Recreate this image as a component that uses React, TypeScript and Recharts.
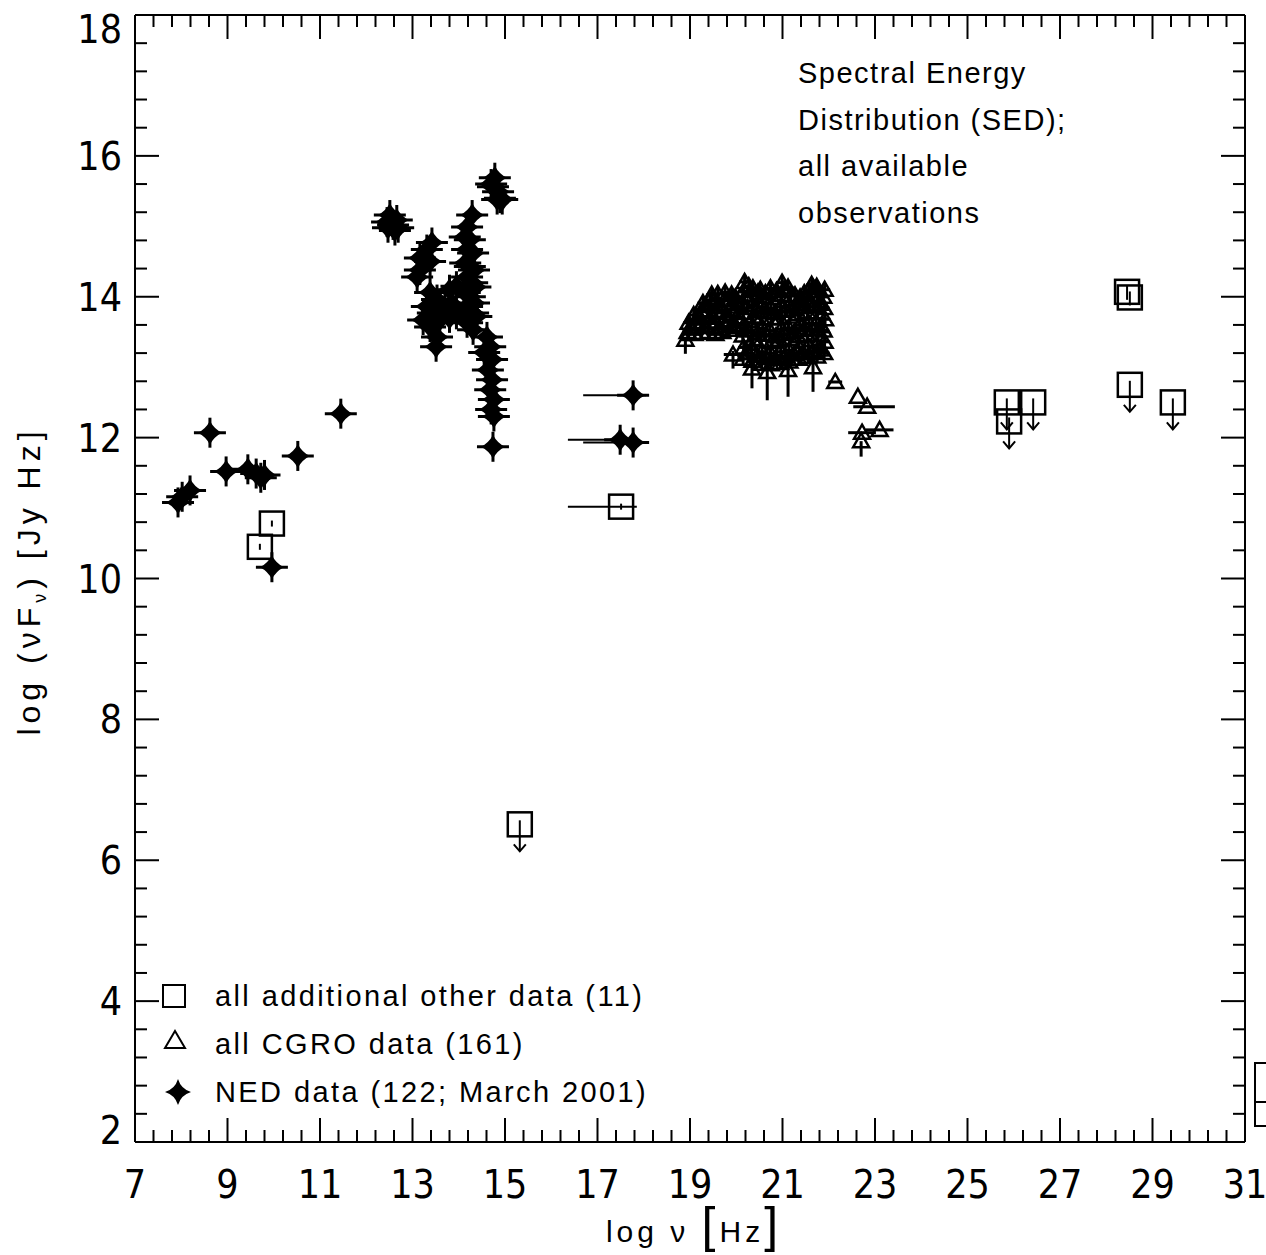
import React from 'react';
import { ScatterChart, Scatter, XAxis, YAxis, ErrorBar } from 'recharts';

const W = 1266;
const H = 1255;

const xMajorTicks = [7, 9, 11, 13, 15, 17, 19, 21, 23, 25, 27, 29, 31];
const yMajorTicks = [2, 4, 6, 8, 10, 12, 14, 16, 18];

// [log nu, log nuFnu, xErrLow, xErrHigh, yErrLow, yErrHigh]
type Row = number[];

const nedRows: Row[] = [
  [7.93, 11.08], [8.02, 11.16], [8.19, 11.25], [8.62, 12.07], [8.97, 11.52],
  [9.44, 11.55], [9.62, 11.49], [9.72, 11.43], [9.8, 11.47], [9.96, 10.16],
  [10.52, 11.74], [11.45, 12.34],
  [12.51, 15.16], [12.66, 15.09], [12.45, 15.06], [12.58, 15.02], [12.69, 14.98], [12.47, 14.98], [12.62, 14.94],
  [13.42, 14.77], [13.31, 14.67], [13.16, 14.55], [13.38, 14.5], [13.1, 14.28], [13.16, 14.38],
  [13.38, 14.06], [13.53, 13.96], [13.31, 13.86], [13.44, 13.77], [13.23, 13.67], [13.59, 13.67],
  [13.38, 13.57], [13.53, 13.43], [13.51, 13.29],
  [13.8, 14.1], [13.85, 13.9], [13.8, 13.7], [13.95, 14.15], [13.95, 13.75], [13.7, 13.85],
  [14.29, 15.16],
  [14.18, 14.99], [14.13, 14.85], [14.24, 14.81], [14.18, 14.67], [14.31, 14.62], [14.14, 14.48],
  [14.24, 14.43], [14.33, 14.38], [14.18, 14.28], [14.29, 14.2], [14.36, 14.14], [14.13, 14.06],
  [14.24, 14.0], [14.33, 13.91], [14.18, 13.86], [14.31, 13.77], [14.38, 13.72], [14.18, 13.63], [14.31, 13.53],
  [14.61, 13.43], [14.68, 13.29], [14.55, 13.21], [14.72, 13.11], [14.63, 12.96], [14.72, 12.82],
  [14.68, 12.68], [14.76, 12.54], [14.7, 12.4], [14.76, 12.3],
  [14.74, 11.87],
  [14.78, 15.69], [14.74, 15.56], [14.85, 15.49], [14.89, 15.4], [14.83, 15.38], [14.94, 15.38], [14.7, 15.6],
  [17.77, 12.6, 1.08, 0.28], [17.49, 11.97, 1.13, 0.3], [17.77, 11.93, 1.08, 0.32],
];

// dense 19-22 cluster; every point carries the same small error bars (cgroLobeErr)
const cgroLobeRows: Row[] = [
  [18.95, 13.5], [18.97, 13.63], [19.1, 13.47], [19.12, 13.61], [19.08, 13.74],
  [19.25, 13.49], [19.27, 13.64], [19.24, 13.79], [19.28, 13.91],
  [19.4, 13.5], [19.42, 13.65], [19.39, 13.81], [19.43, 13.95], [19.47, 14.03],
  [19.55, 13.47], [19.56, 13.62], [19.58, 13.77], [19.54, 13.9], [19.6, 14.04],
  [19.7, 13.5], [19.72, 13.64], [19.69, 13.8], [19.74, 13.95], [19.76, 14.06],
  [19.85, 13.53], [19.86, 13.67], [19.88, 13.82], [19.84, 13.96], [19.9, 14.03],
  [20.0, 13.57], [20.01, 13.71], [20.03, 13.86], [19.98, 13.99],
  [19.03, 13.55], [19.18, 13.7], [19.33, 13.57], [19.33, 13.87], [19.48, 13.72],
  [19.63, 13.55], [19.63, 13.86], [19.78, 13.72], [19.93, 13.6], [19.93, 13.9],
  [20.15, 13.12], [20.16, 13.28], [20.14, 13.45], [20.17, 13.6], [20.15, 13.77], [20.13, 13.92], [20.16, 14.08], [20.18, 14.21],
  [20.35, 13.09], [20.33, 13.25], [20.36, 13.4], [20.34, 13.57], [20.37, 13.72], [20.35, 13.88], [20.32, 14.02], [20.36, 14.12],
  [20.55, 13.05], [20.56, 13.22], [20.53, 13.38], [20.57, 13.55], [20.54, 13.7], [20.56, 13.86], [20.55, 14.0], [20.52, 14.1],
  [20.75, 13.04], [20.74, 13.2], [20.77, 13.36], [20.73, 13.52], [20.76, 13.69], [20.75, 13.84], [20.78, 13.98], [20.74, 14.12],
  [20.95, 13.06], [20.96, 13.22], [20.93, 13.39], [20.97, 13.54], [20.94, 13.7], [20.96, 13.86], [20.98, 14.02], [20.99, 14.2],
  [21.15, 13.08], [21.14, 13.24], [21.17, 13.4], [21.13, 13.56], [21.16, 13.72], [21.15, 13.88], [21.18, 14.01], [21.12, 14.13],
  [21.35, 13.12], [21.36, 13.28], [21.33, 13.44], [21.37, 13.6], [21.34, 13.76], [21.36, 13.9], [21.38, 13.99],
  [21.55, 13.14], [21.56, 13.3], [21.53, 13.46], [21.57, 13.62], [21.54, 13.78], [21.55, 13.94], [21.57, 14.08], [21.63, 14.17],
  [21.75, 13.15], [21.74, 13.31], [21.77, 13.46], [21.73, 13.62], [21.76, 13.78], [21.75, 13.94], [21.78, 14.08], [21.74, 14.14],
  [21.9, 13.2], [21.91, 13.36], [21.89, 13.52], [21.92, 13.68], [21.9, 13.84], [21.88, 14.0], [21.91, 14.1],
  [20.25, 13.2], [20.26, 13.52], [20.24, 13.84], [20.27, 14.15],
  [20.45, 13.16], [20.46, 13.48], [20.44, 13.8], [20.47, 14.06],
  [20.65, 13.13], [20.64, 13.46], [20.66, 13.78], [20.63, 14.05],
  [20.85, 13.12], [20.86, 13.44], [20.84, 13.77], [20.87, 14.08],
  [21.05, 13.15], [21.04, 13.47], [21.06, 13.8], [21.03, 14.1],
  [21.25, 13.18], [21.26, 13.5], [21.24, 13.82], [21.27, 14.02],
  [21.45, 13.2], [21.46, 13.53], [21.44, 13.85], [21.47, 14.05],
  [21.65, 13.22], [21.64, 13.54], [21.66, 13.86], [21.67, 14.12],
  [21.83, 13.25], [21.84, 13.58], [21.82, 13.9],
];
const cgroLobeErr = [0.12, 0.12, 0.09, 0.09];

const cgroOtherRows: Row[] = [
  [18.9, 13.39, 0.1, 0.1, 0.2, 0], [19.93, 13.18, 0.2, 0.2, 0.2, 0.05],
  [20.34, 12.98, 0, 0, 0.28, 0.2], [20.67, 12.93, 0, 0, 0.4, 0.2], [21.12, 12.96, 0, 0, 0.38, 0.2], [21.66, 13.0, 0, 0, 0.35, 0.2],
  [22.14, 12.79, 0.15, 0.15], [22.63, 12.58], [22.83, 12.44, 0.3, 0.6], [23.1, 12.11, 0.3, 0.3],
  [22.72, 12.07, 0.3, 0.3], [22.7, 11.95, 0, 0, 0.22, 0],
];

const otherRows: Row[] = [
  [9.7, 10.45], [9.96, 10.78], [15.32, 6.51], [17.51, 11.02, 1.15, 0.34],
  [25.85, 12.5], [25.9, 12.23], [26.42, 12.5], [28.45, 14.07], [28.51, 13.99], [28.51, 12.75], [29.44, 12.5],
];
// 0 = detection, 1 = upper limit (arrow), 2 = short limit mark
const otherLimit = [0, 0, 1, 0, 1, 1, 1, 2, 2, 1, 1];

const legendLabels = ['all additional other data (11)', 'all CGRO data (161)', 'NED data (122; March 2001)'];
const noteLines = ['Spectral Energy', 'Distribution (SED);', 'all available', 'observations'];

const NUM_FONT = "'Liberation Sans Narrow', 'DejaVu Sans Condensed', 'Liberation Sans', sans-serif";
const TXT_FONT = "'Liberation Sans', 'DejaVu Sans', sans-serif";

const toPoints = (rows: Row[], lim?: number[]) =>
  rows.map((r, i) => ({
    x: r[0],
    y: r[1],
    ex: [r[2] || 0, r[3] || 0],
    ey: [r[4] || 0, r[5] || 0],
    lim: lim ? lim[i] : 0,
  }));

const nedData = toPoints(nedRows);
const cgroData = [
  ...toPoints(cgroLobeRows.map((r) => [r[0], r[1], ...cgroLobeErr])),
  ...toPoints(cgroOtherRows),
];
const otherData = toPoints(otherRows, otherLimit);

// minor ticks: 5 intervals between labelled ticks
const withMinor = (major: number[]) => {
  const out: number[] = [];
  for (let i = 0; i < major.length - 1; i++) {
    for (let k = 0; k < 5; k++) out.push(+(major[i] + ((major[i + 1] - major[i]) * k) / 5).toFixed(3));
  }
  out.push(major[major.length - 1]);
  return out;
};
const xTicks = withMinor(xMajorTicks);
const yTicks = withMinor(yMajorTicks);

const isMajor = (v: number, majors: number[]) => majors.some((m) => Math.abs(m - v) < 1e-6);

const BottomTick = ({ x, y, payload }: any) => {
  const major = isMajor(payload.value, xMajorTicks);
  return (
    <g>
      <line x1={x} x2={x} y1={y} y2={y - (major ? 24 : 12)} stroke="#000" strokeWidth={2} />
      {major && (
        <text x={x} y={y + 56} textAnchor="middle" fontSize={39} fontFamily={NUM_FONT} fill="#000">
          {payload.value}
        </text>
      )}
    </g>
  );
};

const TopTick = ({ x, y, payload }: any) => {
  const major = isMajor(payload.value, xMajorTicks);
  return <line x1={x} x2={x} y1={y} y2={y + (major ? 24 : 12)} stroke="#000" strokeWidth={2} />;
};

const LeftTick = ({ x, y, payload }: any) => {
  const v = payload.value;
  const major = isMajor(v, yMajorTicks);
  // end labels sit inside the frame
  const shift = v === 18 ? 14 : v === 2 ? -12 : 0;
  return (
    <g>
      <line x1={x} x2={x + (major ? 24 : 12)} y1={y} y2={y} stroke="#000" strokeWidth={2} />
      {major && (
        <text x={x - 13} y={y + 14 + shift} textAnchor="end" fontSize={39} fontFamily={NUM_FONT} fill="#000">
          {v}
        </text>
      )}
    </g>
  );
};

const RightTick = ({ x, y, payload }: any) => {
  const major = isMajor(payload.value, yMajorTicks);
  return <line x1={x} x2={x - (major ? 24 : 12)} y1={y} y2={y} stroke="#000" strokeWidth={2} />;
};

const starPath = (cx: number, cy: number, r: number, c: number) =>
  `M${cx},${cy - r} Q${cx + c},${cy - c} ${cx + r},${cy} Q${cx + c},${cy + c} ${cx},${cy + r} ` +
  `Q${cx - c},${cy + c} ${cx - r},${cy} Q${cx - c},${cy - c} ${cx},${cy - r} Z`;

const StarMark = ({ cx, cy }: any) => {
  if (cx == null || cy == null) return null;
  return (
    <g>
      <line x1={cx - 16} x2={cx + 16} y1={cy} y2={cy} stroke="#000" strokeWidth={3} />
      <line x1={cx} x2={cx} y1={cy - 15} y2={cy + 15} stroke="#000" strokeWidth={3} />
      <path d={starPath(cx, cy, 12, 4)} fill="#000" />
    </g>
  );
};

const TriangleMark = ({ cx, cy }: any) => {
  if (cx == null || cy == null) return null;
  return (
    <polygon
      points={`${cx},${cy - 8} ${cx + 8},${cy + 6} ${cx - 8},${cy + 6}`}
      fill="none"
      stroke="#000"
      strokeWidth={2.5}
    />
  );
};

const SquareMark = ({ cx, cy, payload }: any) => {
  if (cx == null || cy == null) return null;
  const lim = payload?.lim || 0;
  return (
    <g fill="none" stroke="#000" strokeWidth={2.5}>
      <rect x={cx - 12} y={cy - 12} width={24} height={24} />
      {lim === 1 && (
        <>
          <line x1={cx} x2={cx} y1={cy - 4} y2={cy + 27} strokeWidth={2} />
          <path d={`M${cx - 6},${cy + 20} L${cx},${cy + 27} L${cx + 6},${cy + 20}`} strokeWidth={2} />
        </>
      )}
      {lim === 2 && <line x1={cx} x2={cx} y1={cy - 6} y2={cy + 8} strokeWidth={2} />}
      {lim === 0 && <line x1={cx} x2={cx} y1={cy - 3} y2={cy + 3} strokeWidth={2} />}
    </g>
  );
};

const Overlay = () => (
  <svg width={W} height={H} style={{ position: 'absolute', left: 0, top: 0, pointerEvents: 'none' }}>
    <g fontFamily={TXT_FONT} fontSize={29} fill="#000" letterSpacing={1.5}>
      {noteLines.map((t, i) => (
        <text key={t} x={798} y={83 + i * 46.5}>
          {t}
        </text>
      ))}
    </g>

    {/* legend */}
    <rect x={163} y={985} width={22} height={22} fill="none" stroke="#000" strokeWidth={2} />
    <polygon points="175,1031 185,1048 165,1048" fill="none" stroke="#000" strokeWidth={2} />
    <path d={starPath(178, 1092, 13, 3)} fill="#000" />
    <g fontFamily={TXT_FONT} fontSize={29} fill="#000" letterSpacing={2.4}>
      {legendLabels.map((t, i) => (
        <text key={t} x={215} y={1006 + i * 48}>
          {t}
        </text>
      ))}
    </g>

    {/* axis titles */}
    <text x={694} y={1242} textAnchor="middle" fontFamily={TXT_FONT} fontSize={30} fill="#000" letterSpacing={4}>
      log ν <tspan fontSize={50}>[</tspan>Hz<tspan fontSize={50}>]</tspan>
    </text>
    <text
      transform="translate(40,581) rotate(-90)"
      textAnchor="middle"
      fontFamily={TXT_FONT}
      fontSize={32}
      fill="#000"
      letterSpacing={5}
    >
      log (νF<tspan fontSize={18} dy={6}>ν</tspan>
      <tspan dy={-6}>) [Jy Hz]</tspan>
    </text>

    {/* clipped bracket at the right edge */}
    <path d="M1266,1063 L1255,1063 L1255,1126 L1266,1126 M1255,1102 L1266,1102" fill="none" stroke="#000" strokeWidth={2} />
  </svg>
);

export default function App() {
  return (
    <div style={{ position: 'absolute', left: 0, top: 0, width: W, height: H, background: '#fff' }}>
      <ScatterChart width={W} height={H} margin={{ top: 14, right: 20, bottom: 53, left: 75 }}>
        <XAxis
          xAxisId="b"
          type="number"
          dataKey="x"
          domain={[7, 31]}
          ticks={xTicks}
          interval={0}
          allowDataOverflow
          tickSize={0}
          tickMargin={0}
          tickLine={false}
          tick={(p: any) => <BottomTick {...p} />}
          axisLine={{ stroke: '#000', strokeWidth: 2 }}
          height={60}
        />
        <XAxis
          xAxisId="t"
          orientation="top"
          type="number"
          dataKey="x"
          domain={[7, 31]}
          ticks={xTicks}
          interval={0}
          allowDataOverflow
          tickSize={0}
          tickMargin={0}
          tickLine={false}
          tick={(p: any) => <TopTick {...p} />}
          axisLine={{ stroke: '#000', strokeWidth: 2 }}
          height={1}
        />
        <YAxis
          yAxisId="l"
          type="number"
          dataKey="y"
          domain={[2, 18]}
          ticks={yTicks}
          interval={0}
          allowDataOverflow
          tickSize={0}
          tickMargin={0}
          tickLine={false}
          tick={(p: any) => <LeftTick {...p} />}
          axisLine={{ stroke: '#000', strokeWidth: 2 }}
          width={60}
        />
        <YAxis
          yAxisId="r"
          orientation="right"
          type="number"
          dataKey="y"
          domain={[2, 18]}
          ticks={yTicks}
          interval={0}
          allowDataOverflow
          tickSize={0}
          tickMargin={0}
          tickLine={false}
          tick={(p: any) => <RightTick {...p} />}
          axisLine={{ stroke: '#000', strokeWidth: 2 }}
          width={1}
        />

        <Scatter xAxisId="b" yAxisId="l" data={otherData} shape={(p: any) => <SquareMark {...p} />} isAnimationActive={false}>
          <ErrorBar dataKey="ex" direction="x" width={0} stroke="#000" strokeWidth={2} isAnimationActive={false} />
        </Scatter>
        <Scatter xAxisId="b" yAxisId="l" data={cgroData} shape={(p: any) => <TriangleMark {...p} />} isAnimationActive={false}>
          <ErrorBar dataKey="ex" direction="x" width={0} stroke="#000" strokeWidth={3} isAnimationActive={false} />
          <ErrorBar dataKey="ey" direction="y" width={0} stroke="#000" strokeWidth={3} isAnimationActive={false} />
        </Scatter>
        <Scatter xAxisId="b" yAxisId="l" data={nedData} shape={(p: any) => <StarMark {...p} />} isAnimationActive={false}>
          <ErrorBar dataKey="ex" direction="x" width={0} stroke="#000" strokeWidth={2} isAnimationActive={false} />
        </Scatter>
      </ScatterChart>
      <Overlay />
    </div>
  );
}
